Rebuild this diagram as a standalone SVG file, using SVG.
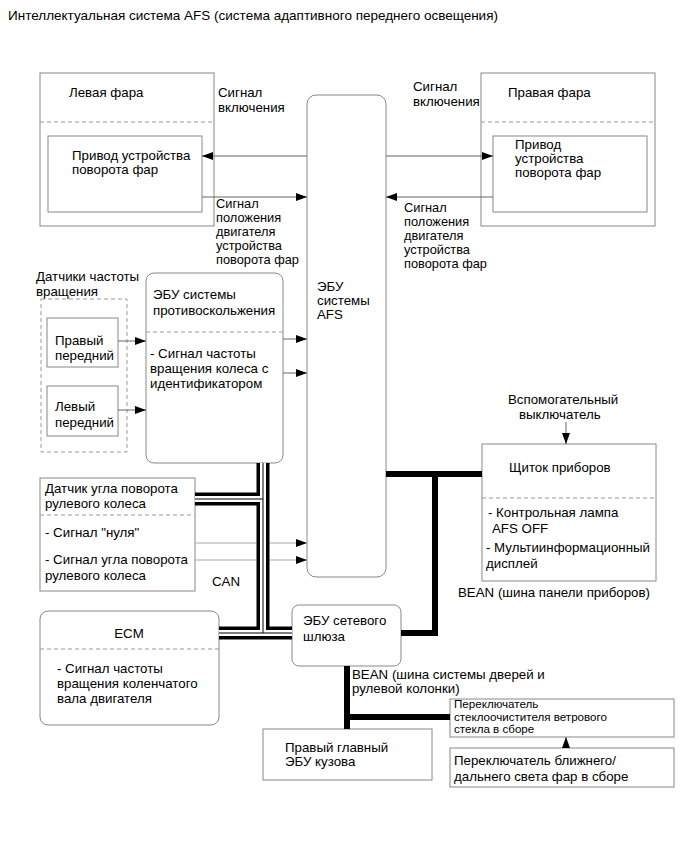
<svg xmlns="http://www.w3.org/2000/svg" width="690" height="854" viewBox="0 0 690 854">
<defs>
<marker id="ah" markerUnits="userSpaceOnUse" markerWidth="11" markerHeight="8" refX="11" refY="4" orient="auto"><path d="M0,0 L11,4 L0,8 z" fill="#000"/></marker>
<style>
text{font-family:"Liberation Sans",Arial,sans-serif;font-size:13.3px;fill:#000}
.sm{font-size:11.6px}
.md{font-size:12.8px}
.box{fill:#fff;stroke:#888;stroke-width:1}
.dash{stroke:#999;stroke-width:1;stroke-dasharray:4,3;fill:none}
.dbox{fill:none;stroke:#999;stroke-width:1;stroke-dasharray:4,3}
.con{stroke:#666;stroke-width:1;fill:none;marker-end:url(#ah)}
.conl{stroke:#aaa;stroke-width:1.2;fill:none;marker-end:url(#ah)}
.canb{stroke:#000;stroke-width:13;fill:none}
.canw{stroke:#fff;stroke-width:6;fill:none}
.canc{stroke:#000;stroke-width:1;fill:none}
.bean{stroke:#000;stroke-width:6;fill:none}
</style>
</defs>
<rect width="690" height="854" fill="#fff"/>
<text x="8" y="20" style="font-size:13.5px">Интеллектуальная система AFS (система адаптивного переднего освещения)</text>

<g id="left-headlamp">
<rect class="box" x="40" y="73" width="174" height="153"/>
<line class="dash" x1="40" y1="122" x2="214" y2="122"/>
<text x="69" y="97">Левая фара</text>
<rect class="box" x="48" y="136" width="154" height="76"/>
<text x="72" y="160">Привод устройства</text>
<text x="72" y="174">поворота фар</text>
</g>

<g id="right-headlamp">
<rect class="box" x="481" y="73" width="174" height="153"/>
<line class="dash" x1="481" y1="122" x2="655" y2="122"/>
<text x="508" y="97">Правая фара</text>
<rect class="box" x="493" y="136" width="154" height="76"/>
<text x="515" y="149">Привод</text>
<text x="515" y="163">устройства</text>
<text x="515" y="177">поворота фар</text>
</g>

<g id="labels-top">
<text x="218" y="97">Сигнал</text>
<text x="218" y="112">включения</text>
<text x="413" y="91">Сигнал</text>
<text x="413" y="106">включения</text>
<text class="md" x="216" y="208">Сигнал</text>
<text class="md" x="216" y="222">положения</text>
<text class="md" x="216" y="236">двигателя</text>
<text class="md" x="216" y="250">устройства</text>
<text class="md" x="216" y="264">поворота фар</text>
<text class="md" x="404" y="212">Сигнал</text>
<text class="md" x="404" y="226">положения</text>
<text class="md" x="404" y="240">двигателя</text>
<text class="md" x="404" y="254">устройства</text>
<text class="md" x="404" y="268">поворота фар</text>
</g>

<g id="afs-ecu">
<rect class="box" x="307" y="95" width="79" height="482" rx="9"/>
<text x="317" y="291">ЭБУ</text>
<text x="317" y="305">системы</text>
<text x="317" y="319">AFS</text>
</g>

<g id="speed-sensors">
<text x="36" y="281">Датчики частоты</text>
<text x="36" y="296">вращения</text>
<rect class="dbox" x="41" y="299" width="86" height="153"/>
<rect class="box" x="47" y="318" width="71" height="49"/>
<text x="55" y="345">Правый</text>
<text x="55" y="360">передний</text>
<rect class="box" x="47" y="386" width="71" height="50"/>
<text x="55" y="411">Левый</text>
<text x="55" y="427">передний</text>
</g>

<g id="abs-ecu">
<rect class="box" x="146" y="273" width="137" height="190" rx="8"/>
<line class="dash" x1="146" y1="332" x2="283" y2="332"/>
<text x="153" y="299">ЭБУ системы</text>
<text x="153" y="315">противоскольжения</text>
<text x="150" y="358">- Сигнал частоты</text>
<text x="150" y="373">вращения колеса с</text>
<text x="150" y="388">идентификатором</text>
</g>

<g id="steering-sensor">
<rect class="box" x="40" y="478" width="155" height="113"/>
<line class="dash" x1="40" y1="515" x2="195" y2="515"/>
<text x="45" y="493">Датчик угла поворота</text>
<text x="45" y="508">рулевого колеса</text>
<text x="45" y="537">- Сигнал "нуля"</text>
<text x="45" y="564">- Сигнал угла поворота</text>
<text x="45" y="580">рулевого колеса</text>
</g>

<text x="212" y="586">CAN</text>

<g id="ecm">
<rect class="box" x="40" y="611" width="179" height="114" rx="8"/>
<line class="dash" x1="40" y1="649" x2="219" y2="649"/>
<text x="129" y="638" text-anchor="middle">ECM</text>
<text x="57" y="673">- Сигнал частоты</text>
<text x="57" y="688">вращения коленчатого</text>
<text x="57" y="703">вала двигателя</text>
</g>

<g id="gateway-ecu">
<rect class="box" x="292" y="605" width="109" height="61" rx="7"/>
<text x="303" y="625">ЭБУ сетевого</text>
<text x="303" y="641">шлюза</text>
</g>

<g id="aux-switch">
<text x="508" y="404">Вспомогательный</text>
<text x="519" y="419">выключатель</text>
</g>

<g id="instrument-panel">
<rect class="box" x="482" y="444" width="174" height="137"/>
<line class="dash" x1="482" y1="498" x2="656" y2="498"/>
<text x="509" y="472">Щиток приборов</text>
<text x="488" y="517">- Контрольная лампа</text>
<text x="492" y="533">AFS OFF</text>
<text x="486" y="552">- Мультиинформационный</text>
<text x="486" y="568">дисплей</text>
</g>
<text x="458" y="597">BEAN (шина панели приборов)</text>
<text x="352" y="679">BEAN (шина системы дверей и</text>
<text x="352" y="693">рулевой колонки)</text>

<g id="wiper-switch">
<rect class="box" x="450" y="699" width="224" height="38"/>
<text class="sm" x="454" y="708">Переключатель</text>
<text class="sm" x="454" y="720.5">стеклоочистителя ветрового</text>
<text class="sm" x="454" y="733">стекла в сборе</text>
</g>

<g id="body-ecu">
<rect class="box" x="263" y="729" width="169" height="51"/>
<text x="285" y="752">Правый главный</text>
<text x="285" y="766">ЭБУ кузова</text>
</g>

<g id="headlamp-switch">
<rect class="box" x="450" y="748" width="224" height="39"/>
<text x="454" y="765">Переключатель ближнего/</text>
<text x="454" y="781">дальнего света фар в сборе</text>
</g>

<g id="connectors">
<line class="con" x1="307" y1="156" x2="202" y2="156"/>
<line class="con" x1="202" y1="197" x2="307" y2="197"/>
<line class="con" x1="386" y1="156" x2="493" y2="156"/>
<line class="con" x1="493" y1="197" x2="386" y2="197"/>
<line class="con" x1="118" y1="341" x2="146" y2="341"/>
<line class="con" x1="118" y1="410" x2="146" y2="410"/>
<line class="con" x1="283" y1="339" x2="307" y2="339"/>
<line class="con" x1="283" y1="373" x2="307" y2="373"/>
<line class="conl" x1="195" y1="543" x2="307" y2="543"/>
<line class="conl" x1="195" y1="560" x2="307" y2="560"/>
<line class="con" x1="566" y1="422" x2="566" y2="444"/>
<line class="conl" x1="566" y1="748" x2="566" y2="737"/>
<path class="canb" d="M263,463 V633 M195,499 H263 M219,633 H292"/>
<path class="canw" d="M263,463 V633 M195,499 H263 M219,633 H292"/>
<path class="canc" d="M263,463 V633 M195,499 H263 M219,633 H292"/>
<path class="bean" d="M386,474 H482 M435,474 V633 H401"/>
<path class="bean" d="M347,666 V729 M347,717 H450"/>
</g>
</svg>
